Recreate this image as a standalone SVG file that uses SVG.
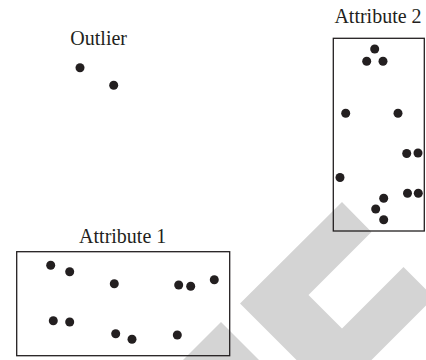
<svg xmlns="http://www.w3.org/2000/svg" width="426" height="360" viewBox="0 0 426 360">
<style>
.bg{fill:#ffffff}
.wm{fill:#d4d4d4}
.box{fill:none;stroke:#231f20;stroke-width:1.3}
.dot{fill:#231f20}
.lbl{font-family:"Liberation Serif","Times New Roman",serif;font-size:20px;fill:#231f20;text-anchor:middle}
</style>
<rect class="bg" x="0" y="0" width="426" height="360"/>
<g id="watermark">
<polygon class="wm" points="342,202 240,303.5 334,397.5 434,297.5 403.5,267 342,328.5 308.5,295 371.5,232"/>
<polygon class="wm" points="221,322 183,360 259,360"/>
</g>
<g id="outlier">
<text class="lbl" x="98.7" y="45">Outlier</text>
<circle class="dot" cx="80" cy="67.7" r="4.5"/>
<circle class="dot" cx="113.7" cy="85.3" r="4.5"/>
</g>
<g id="attribute2">
<text class="lbl" x="378" y="22.5">Attribute 2</text>
<rect class="box" x="333.3" y="38.3" width="91" height="192.7"/>
<circle class="dot" cx="374.7" cy="49" r="4.5"/>
<circle class="dot" cx="366.7" cy="61.3" r="4.5"/>
<circle class="dot" cx="383" cy="61.3" r="4.5"/>
<circle class="dot" cx="345.7" cy="113.3" r="4.5"/>
<circle class="dot" cx="398" cy="113.3" r="4.5"/>
<circle class="dot" cx="406.7" cy="153.5" r="4.5"/>
<circle class="dot" cx="418" cy="153" r="4.5"/>
<circle class="dot" cx="340" cy="177.5" r="4.5"/>
<circle class="dot" cx="407.5" cy="193.3" r="4.5"/>
<circle class="dot" cx="418.3" cy="193.3" r="4.5"/>
<circle class="dot" cx="383.7" cy="198.3" r="4.5"/>
<circle class="dot" cx="375.7" cy="209" r="4.5"/>
<circle class="dot" cx="383.7" cy="219.7" r="4.5"/>
</g>
<g id="attribute1">
<text class="lbl" x="122.7" y="243.3">Attribute 1</text>
<rect class="box" x="16.7" y="251.7" width="213" height="104"/>
<circle class="dot" cx="50.7" cy="265.3" r="4.5"/>
<circle class="dot" cx="69.7" cy="271.7" r="4.5"/>
<circle class="dot" cx="114.3" cy="283.7" r="4.5"/>
<circle class="dot" cx="178.7" cy="285" r="4.5"/>
<circle class="dot" cx="190.7" cy="286.3" r="4.5"/>
<circle class="dot" cx="214.3" cy="279.7" r="4.5"/>
<circle class="dot" cx="53.3" cy="320.7" r="4.5"/>
<circle class="dot" cx="69.7" cy="322" r="4.5"/>
<circle class="dot" cx="115.7" cy="333.7" r="4.5"/>
<circle class="dot" cx="132" cy="339.3" r="4.5"/>
<circle class="dot" cx="177.3" cy="335" r="4.5"/>
</g>
<g id="connectors"/>
</svg>
